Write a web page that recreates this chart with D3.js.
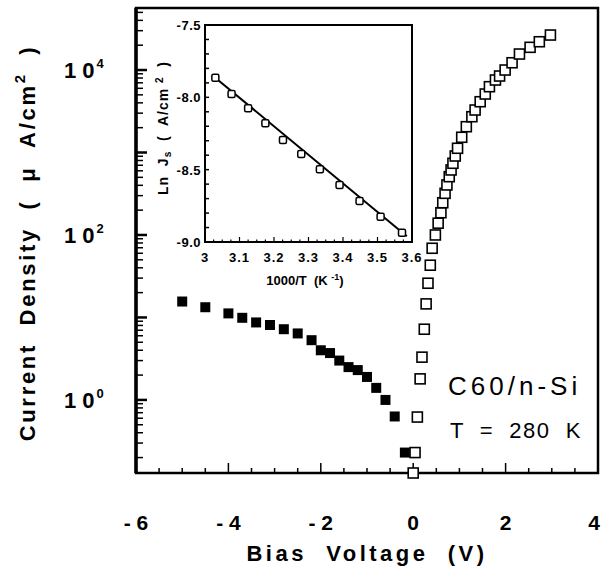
<!doctype html>
<html>
    <head>
        <meta charset="utf-8">
        <title>C60/n-Si current density</title>
        <script src="https://d3js.org/d3.v7.min.js"></script>
        <style type="text/css">
            body { margin:0; background:#fff; }
            text { font-family:"Liberation Sans", Arial, sans-serif; font-weight:bold; fill:#000; }
        </style>
    </head>
    <body>
      <svg></svg>
      <script type="text/javascript">

        let w = 601,
            h = 568;

        // reverse bias (filled squares)
        let revV = [-5.0, -4.5, -4.0, -3.7, -3.4, -3.1, -2.8, -2.5, -2.2, -2.0, -1.8, -1.6, -1.4, -1.2, -1.0, -0.8, -0.6, -0.4, -0.18];
        let revJ = [15.6, 13.3, 11.2, 9.9, 8.7, 8.1, 7.2, 6.4, 5.3, 4.0, 3.7, 3.0, 2.5, 2.3, 1.9, 1.4, 1.0, 0.63, 0.23];

        // forward bias (open squares)
        let fwdV = [0.0, 0.04, 0.09, 0.15, 0.19, 0.24, 0.28, 0.32, 0.37, 0.41, 0.48, 0.54, 0.60, 0.64, 0.69, 0.73, 0.78, 0.82, 0.86, 0.91, 0.96, 1.05, 1.15, 1.27, 1.34, 1.45, 1.56, 1.65, 1.78, 1.87, 1.99, 2.14, 2.30, 2.53, 2.73, 2.97];
        let fwdJ = [0.13, 0.23, 0.62, 1.8, 3.3, 7.2, 14.6, 26, 43, 69, 100, 139, 186, 246, 320, 404, 509, 614, 740, 907, 1125, 1530, 2055, 2716, 3274, 4128, 5117, 6278, 7566, 8458, 10000, 12250, 15630, 18850, 22030, 26560];

        let xTickLabels = ['- 6', '- 4', '- 2', '0', '2', '4'];
        let xTickValues = [-6, -4, -2, 0, 2, 4];
        let yLabelExp = [0, 2, 4];

        // inset: ln J vs 1000/T
        let invT = [3.030, 3.077, 3.125, 3.175, 3.226, 3.279, 3.333, 3.390, 3.448, 3.509, 3.571];
        let lnJ = [-7.864, -7.977, -8.076, -8.180, -8.295, -8.392, -8.497, -8.606, -8.717, -8.825, -8.936];
        let fitX = [3.02, 3.585];
        let fitY = [-7.845, -8.960];
        let insetXLabels = ['3', '3.1', '3.2', '3.3', '3.4', '3.5', '3.6'];
        let insetYLabels = ['-7.5', '-8.0', '-8.5', '-9.0'];

        let svg = d3.select('svg')
                    .attr('width', w)
                    .attr('height', h);

        let x = d3.scaleLinear().domain([-6, 4]).range([136, 598]);
        let y = d3.scaleLog().domain([0.13, 56500]).range([473, 8]);

        // frame
        svg.append('rect')
           .attr('x', 136).attr('y', 8)
           .attr('width', 462).attr('height', 465)
           .attr('fill', 'none')
           .attr('stroke', 'black')
           .attr('stroke-width', 2.5);

        // left axis thicker
        svg.append('line')
           .attr('x1', 136).attr('x2', 136)
           .attr('y1', 8).attr('y2', 473)
           .attr('stroke', 'black').attr('stroke-width', 3.5);

        // y ticks (inward)
        let decades = d3.range(0, 5).map(function(k) { return Math.pow(10, k); });
        let minorY = [];
        for (let k = -1; k <= 4; k++) {
            for (let m = 2; m <= 9; m++) {
                let v = m * Math.pow(10, k);
                if (v > 0.13 && v < 56500) minorY.push(v);
            }
        }
        svg.selectAll('.ymaj')
           .data(decades)
           .enter()
           .append('line')
           .attr('x1', 136).attr('x2', 147)
           .attr('y1', function(d) { return y(d); })
           .attr('y2', function(d) { return y(d); })
           .attr('stroke', 'black').attr('stroke-width', 2.5);
        svg.selectAll('.ymin')
           .data(minorY)
           .enter()
           .append('line')
           .attr('x1', 136).attr('x2', 143)
           .attr('y1', function(d) { return y(d); })
           .attr('y2', function(d) { return y(d); })
           .attr('stroke', 'black').attr('stroke-width', 1.5);

        // y labels 10^n
        let yl = svg.selectAll('.ylab')
           .data(yLabelExp)
           .enter()
           .append('text')
           .attr('x', 64)
           .attr('y', function(d) { return y(Math.pow(10, d)) + 8; })
           .style('font-size', '22px');
        yl.append('tspan').text('1 0');
        yl.append('tspan')
          .attr('dx', 2).attr('dy', -10)
          .style('font-size', '13px')
          .text(function(d) { return d; });

        // x ticks
        let minorX = d3.range(-6, 4.01, 0.5);
        svg.selectAll('.xmin')
           .data(minorX)
           .enter()
           .append('line')
           .attr('x1', function(d) { return x(d); })
           .attr('x2', function(d) { return x(d); })
           .attr('y1', 473)
           .attr('y2', function(d) { return Number.isInteger(d / 2) ? 463 : 468; })
           .attr('stroke', 'black').attr('stroke-width', 1.5);

        svg.selectAll('.xlab')
           .data(xTickValues)
           .enter()
           .append('text')
           .attr('x', function(d, i) { return i === xTickValues.length - 1 ? 600 : x(d); })
           .attr('y', 530)
           .attr('text-anchor', function(d, i) { return i === xTickValues.length - 1 ? 'end' : 'middle'; })
           .style('font-size', '21px')
           .text(function(d, i) { return xTickLabels[i]; });

        svg.append('text')
           .attr('x', 367).attr('y', 561)
           .attr('text-anchor', 'middle')
           .style('font-size', '22px')
           .style('letter-spacing', '3.5px')
           .attr('xml:space', 'preserve')
           .text('Bias  Voltage  (V)');

        let yt = svg.append('text')
           .attr('transform', 'translate(35,243) rotate(-90)')
           .attr('text-anchor', 'middle')
           .attr('xml:space', 'preserve')
           .style('font-size', '22px')
           .style('letter-spacing', '2.7px');
        yt.append('tspan').text('Current  Density  (  \u03bc  A/cm');
        yt.append('tspan').attr('dy', -10).style('font-size', '15px').text('2');
        yt.append('tspan').attr('dy', 10).text('  )');

        // data: reverse (filled)
        let s = 10;
        svg.selectAll('.rev')
           .data(revV)
           .enter()
           .append('rect')
           .attr('x', function(d) { return x(d) - s / 2; })
           .attr('y', function(d, i) { return y(revJ[i]) - s / 2; })
           .attr('width', s).attr('height', s)
           .attr('fill', 'black');

        // data: forward (open)
        svg.selectAll('.fwd')
           .data(fwdV)
           .enter()
           .append('rect')
           .attr('x', function(d) { return x(d) - s / 2; })
           .attr('y', function(d, i) { return y(fwdJ[i]) - s / 2; })
           .attr('width', s).attr('height', s)
           .attr('fill', 'white')
           .attr('stroke', 'black')
           .attr('stroke-width', 1.6);

        svg.append('text')
           .attr('x', 448).attr('y', 395)
           .style('font-size', '26px')
           .style('font-weight', 'normal')
           .style('letter-spacing', '4px')
           .text('C60/n-Si');
        svg.append('text')
           .attr('x', 450).attr('y', 438)
           .attr('xml:space', 'preserve')
           .style('font-size', '22px')
           .style('font-weight', 'normal')
           .style('letter-spacing', '1.5px')
           .text('T  =  280  K');

        // inset
        let ix = d3.scaleLinear().domain([3, 3.6]).range([205, 412]);
        let iy = d3.scaleLinear().domain([-9, -7.5]).range([242, 25]);

        svg.append('rect')
           .attr('x', 205).attr('y', 25)
           .attr('width', 207).attr('height', 217)
           .attr('fill', 'white')
           .attr('stroke', 'black')
           .attr('stroke-width', 2);

        svg.selectAll('.iyt')
           .data(d3.range(-9, -7.49, 0.1))
           .enter()
           .append('line')
           .attr('x1', 205).attr('x2', 209)
           .attr('y1', function(d) { return iy(d); })
           .attr('y2', function(d) { return iy(d); })
           .attr('stroke', 'black').attr('stroke-width', 1.5);

        svg.selectAll('.ixt')
           .data(d3.range(3, 3.601, 0.025))
           .enter()
           .append('line')
           .attr('x1', function(d) { return ix(d); })
           .attr('x2', function(d) { return ix(d); })
           .attr('y1', 242)
           .attr('y2', function(d, i) { return i % 4 === 0 ? 237 : 239.5; })
           .attr('stroke', 'black').attr('stroke-width', 1.2);

        svg.selectAll('.iylab')
           .data(insetYLabels)
           .enter()
           .append('text')
           .attr('x', 201)
           .attr('y', function(d) { return iy(+d) + 5; })
           .attr('text-anchor', 'end')
           .style('font-size', '13px')
           .style('letter-spacing', '0.5px')
           .text(function(d) { return d; });

        svg.selectAll('.ixlab')
           .data(insetXLabels)
           .enter()
           .append('text')
           .attr('x', function(d) { return ix(+d); })
           .attr('y', 262)
           .attr('text-anchor', 'middle')
           .style('font-size', '13px')
           .style('letter-spacing', '1px')
           .text(function(d) { return d; });

        let ixt = svg.append('text')
           .attr('x', 305).attr('y', 285)
           .attr('text-anchor', 'middle')
           .attr('xml:space', 'preserve')
           .style('font-size', '13px');
        ixt.append('tspan').text('1000/T  (K ');
        ixt.append('tspan').attr('dy', -5).style('font-size', '9px').text('-1');
        ixt.append('tspan').attr('dy', 5).text(')');

        let iyt = svg.append('text')
           .attr('transform', 'translate(168,128) rotate(-90)')
           .attr('text-anchor', 'middle')
           .attr('xml:space', 'preserve')
           .style('font-size', '14px')
           .style('letter-spacing', '1px');
        iyt.append('tspan').text('Ln  J');
        iyt.append('tspan').attr('dy', 3).style('font-size', '10px').text('s');
        iyt.append('tspan').attr('dy', -3).text('  (  A/cm ');
        iyt.append('tspan').attr('dy', -5).style('font-size', '10px').text('2');
        iyt.append('tspan').attr('dy', 5).text('  )');

        svg.append('path')
           .datum(fitX)
           .attr('d', d3.line()
               .x(function(d) { return ix(d); })
               .y(function(d, i) { return iy(fitY[i]); }))
           .attr('stroke', 'black')
           .attr('stroke-width', 2)
           .attr('fill', 'none');

        svg.selectAll('.ipt')
           .data(invT)
           .enter()
           .append('rect')
           .attr('x', function(d) { return ix(d) - 3.5; })
           .attr('y', function(d, i) { return iy(lnJ[i]) - 3.5; })
           .attr('width', 7).attr('height', 7)
           .attr('rx', 1.5)
           .attr('fill', 'white')
           .attr('stroke', 'black')
           .attr('stroke-width', 1.5);
        </script>
    </body>
</html>
